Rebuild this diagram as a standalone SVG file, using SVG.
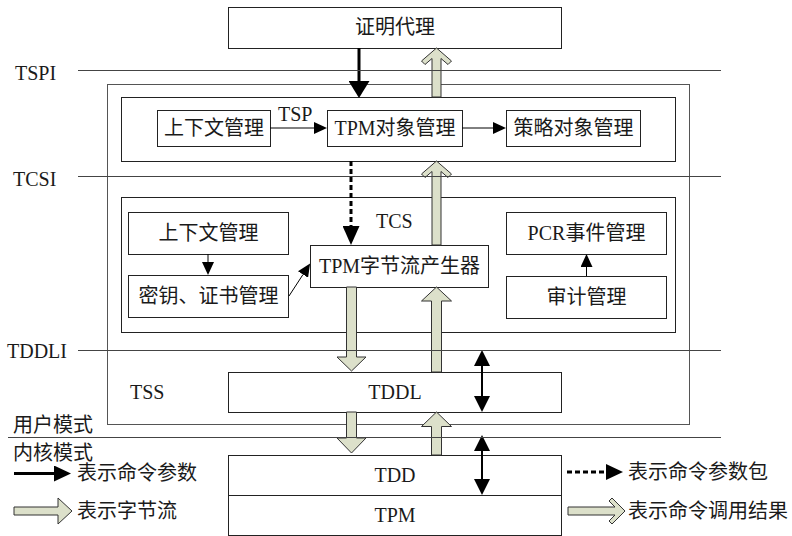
<svg xmlns="http://www.w3.org/2000/svg" width="792" height="536" viewBox="0 0 792 536">
<style>
text{font-family:"Liberation Serif","Noto Sans CJK SC",serif;font-size:20px;fill:#1a1a1a}
.c{text-anchor:middle}
.box{fill:#fff;stroke:#222;stroke-width:1}
.cont{fill:none;stroke:#222;stroke-width:1}
.outer{fill:none;stroke:#555;stroke-width:1}
.layer{stroke:#444;stroke-width:1;fill:none}
.thin{stroke:#000;stroke-width:1;fill:none}
.thick{stroke:#000;stroke-width:3;fill:none}
.dbl{stroke:#000;stroke-width:2;fill:none}
.fat{fill:#dce0ca;stroke:#333;stroke-width:1}
</style>
<defs>
<marker id="hs" markerUnits="userSpaceOnUse" markerWidth="13" markerHeight="12" refX="0" refY="6" orient="auto"><path d="M0,0 L13,6 L0,12 z" fill="#000"/></marker>
<marker id="hb" markerUnits="userSpaceOnUse" markerWidth="17" markerHeight="21" refX="0" refY="10.5" orient="auto"><path d="M0,0 L17,10.5 L0,21 z" fill="#000"/></marker>
<marker id="hd" markerUnits="userSpaceOnUse" markerWidth="19" markerHeight="17" refX="0" refY="8.5" orient="auto"><path d="M0,0 L19,8.5 L0,17 z" fill="#000"/></marker>
<marker id="hm" markerUnits="userSpaceOnUse" markerWidth="16" markerHeight="16" refX="0" refY="8" orient="auto-start-reverse"><path d="M0,0 L16,8 L0,16 z" fill="#000"/></marker>
<marker id="hl" markerUnits="userSpaceOnUse" markerWidth="17" markerHeight="16" refX="0" refY="8" orient="auto"><path d="M0,0 L17,8 L0,16 z" fill="#000"/></marker>
</defs>

<g id="tss">
<rect class="outer" x="107.5" y="84.5" width="582" height="340"/>
<text x="130" y="399">TSS</text>
</g>
<g id="tsp">
<rect class="cont" x="121.5" y="97.5" width="554" height="64"/>
<text x="278" y="121">TSP</text>
</g>
<g id="tcs">
<rect class="cont" x="121.5" y="197.5" width="554" height="135"/>
<text x="376" y="228">TCS</text>
</g>

<g id="attest"><rect class="box" x="228.5" y="7.5" width="333" height="41"/><text class="c" x="395" y="34">证明代理</text></g>
<g id="tsp-ctx"><rect class="box" x="157.5" y="110.5" width="113" height="36"/><text class="c" x="214" y="135">上下文管理</text></g>
<g id="tsp-obj"><rect class="box" x="327.5" y="110.5" width="135" height="36"/><text class="c" x="395" y="135">TPM对象管理</text></g>
<g id="tsp-policy"><rect class="box" x="506.5" y="110.5" width="134" height="36"/><text class="c" x="573.5" y="135">策略对象管理</text></g>
<g id="tcs-ctx"><rect class="box" x="128.5" y="212.5" width="160" height="42"/><text class="c" x="208.5" y="240">上下文管理</text></g>
<g id="tcs-key"><rect class="box" x="128.5" y="275.5" width="160" height="42"/><text class="c" x="208.5" y="303">密钥、证书管理</text></g>
<g id="tcs-gen"><rect class="box" x="310.5" y="245.5" width="178" height="42"/><text class="c" x="399.5" y="273">TPM字节流产生器</text></g>
<g id="tcs-pcr"><rect class="box" x="506.5" y="212.5" width="160" height="42"/><text class="c" x="586.5" y="240">PCR事件管理</text></g>
<g id="tcs-audit"><rect class="box" x="506.5" y="276.5" width="160" height="42"/><text class="c" x="586.5" y="304">审计管理</text></g>
<g id="tddl"><rect class="box" x="228.5" y="372.5" width="333" height="40"/><text class="c" x="395" y="399">TDDL</text></g>
<g id="tdd"><rect class="box" x="228.5" y="455.5" width="333" height="40"/><text class="c" x="395" y="482">TDD</text></g>
<g id="tpm"><rect class="box" x="228.5" y="495.5" width="333" height="40"/><text class="c" x="395" y="522">TPM</text></g>

<g id="connectors">
<polygon class="fat" points="436.5,48 451.5,61 448,64.5 441,58.5 441,97 432,97 432,58.5 425,64.5 421.5,61"/>
<polygon class="fat" points="436.5,161 451.5,174 448,177.5 441,171.5 441,245 432,245 432,171.5 425,177.5 421.5,174"/>
<polygon class="fat" points="346.5,287 356.5,287 356.5,357 366,357 351.5,371 337,357 346.5,357"/>
<polygon class="fat" points="436.5,287 451.5,301 441.5,301 441.5,372 431.5,372 431.5,301 421.5,301"/>
<polygon class="fat" points="346.5,412 356.5,412 356.5,438 366,438 351.5,453 337,438 346.5,438"/>
<polygon class="fat" points="436.5,412 451.5,426.5 441.5,426.5 441.5,455 431.5,455 431.5,426.5 421.5,426.5"/>
<line class="thick" x1="359" y1="48" x2="359" y2="81" marker-end="url(#hb)"/>
<line class="thick" x1="351" y1="161" x2="351" y2="226" stroke-dasharray="5,3" marker-end="url(#hd)"/>
<line class="thin" x1="270" y1="128" x2="314" y2="128" marker-end="url(#hs)"/>
<line class="thin" x1="462" y1="128" x2="493" y2="128" marker-end="url(#hs)"/>
<line class="thin" x1="208" y1="254" x2="208" y2="262" marker-end="url(#hs)"/>
<line class="thin" x1="586.5" y1="276" x2="586.5" y2="267" marker-end="url(#hs)"/>
<line class="thin" x1="289" y1="296" x2="303" y2="274.5" marker-end="url(#hs)"/>
<line class="dbl" x1="482" y1="366" x2="482" y2="396" marker-start="url(#hm)" marker-end="url(#hm)"/>
<line class="dbl" x1="482" y1="451" x2="482" y2="479" marker-start="url(#hm)" marker-end="url(#hm)"/>
</g>

<g id="layers">
<line class="layer" x1="78" y1="70.5" x2="721" y2="70.5"/>
<line class="layer" x1="78" y1="176.5" x2="721" y2="176.5"/>
<line class="layer" x1="78" y1="350.5" x2="721" y2="350.5"/>
<line class="layer" x1="8" y1="437.5" x2="721" y2="437.5"/>
<text x="15" y="80">TSPI</text>
<text x="13" y="186">TCSI</text>
<text x="7" y="358">TDDLI</text>
<text x="13" y="432">用户模式</text>
<text x="13" y="460">内核模式</text>
</g>

<g id="legend">
<line class="thick" x1="14" y1="473.5" x2="54" y2="473.5" marker-end="url(#hl)"/>
<text x="77" y="480">表示命令参数</text>
<polygon class="fat" points="14,507 58,507 58,498 72,511 58,524 58,515 14,515"/>
<text x="77" y="518">表示字节流</text>
<line class="thick" x1="567" y1="472" x2="606" y2="472" stroke-dasharray="5,3" marker-end="url(#hl)"/>
<text x="628" y="479">表示命令参数包</text>
<polygon class="fat" points="568,507 615,507 609,501 612,498 625,511 612,524 609,521 615,515 568,515"/>
<text x="628" y="518">表示命令调用结果</text>
</g>
</svg>
